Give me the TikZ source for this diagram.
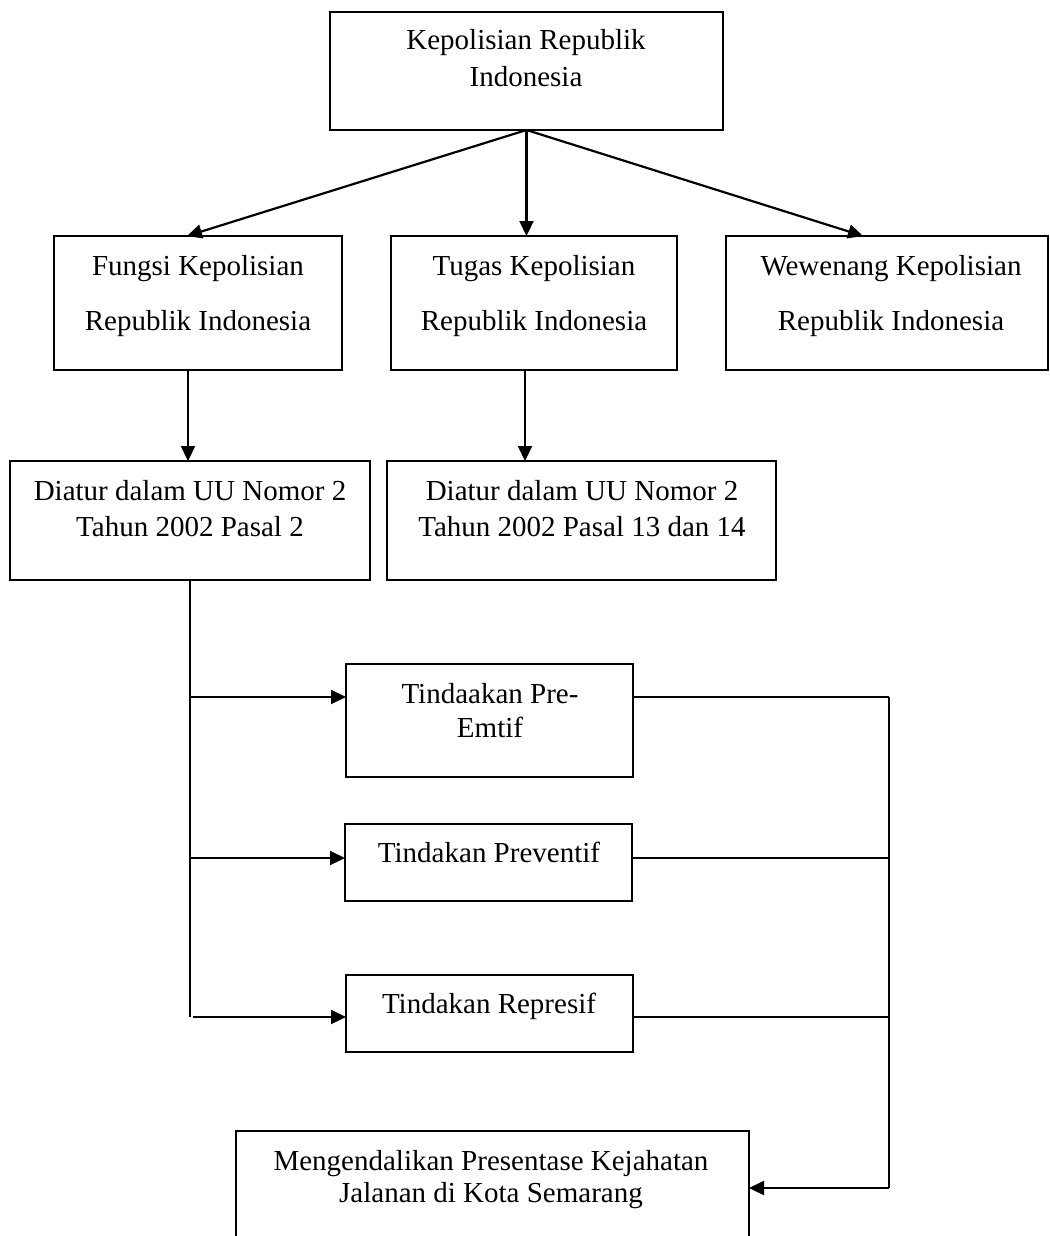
\documentclass[tikz,border=0pt]{standalone}
\usepackage{fontspec}
\setmainfont{Liberation Serif}
\usetikzlibrary{arrows.meta}
\begin{document}
\begin{tikzpicture}[x=1pt,y=-1pt,
  box/.style={draw, line width=2.2pt, inner sep=0pt, outer sep=0pt},
  txt/.style={align=center, font=\fontsize{29}{#1}\selectfont, anchor=base, inner sep=0pt},
  ln/.style={line width=2.2pt},
  arr/.style={line width=2.2pt, -{Triangle[length=15pt,width=14pt]}}]
\clip (0,0) rectangle (1049,1236);
\useasboundingbox (0,0) rectangle (1049,1236);
% boxes
\node[box, minimum width=393pt, minimum height=118pt] (top) at (526.5,71) {};
\node[box, minimum width=288pt, minimum height=134pt] (fungsi) at (198,303) {};
\node[box, minimum width=286pt, minimum height=134pt] (tugas) at (534,303) {};
\node[box, minimum width=322pt, minimum height=134pt] (wew) at (887,303) {};
\node[box, minimum width=360pt, minimum height=119pt] (d1) at (190,520.5) {};
\node[box, minimum width=389pt, minimum height=119pt] (d2) at (581.5,520.5) {};
\node[box, minimum width=287pt, minimum height=113pt] (pre) at (489.5,720.5) {};
\node[box, minimum width=287pt, minimum height=77pt] (prev) at (488.5,862.5) {};
\node[box, minimum width=287pt, minimum height=77pt] (rep) at (489.5,1013.5) {};
\node[box, minimum width=513pt, minimum height=138pt] (bot) at (492.5,1200) {};
% texts (anchor = baseline of last line)
\node[txt=37pt] (ttop) at (526,87) {Kepolisian Republik\\Indonesia};
\node[txt=55pt] (tfungsi) at (198,330) {Fungsi Kepolisian\\Republik Indonesia};
\node[txt=55pt] (ttugas) at (534,330) {Tugas Kepolisian\\Republik Indonesia};
\node[txt=55pt] (twew) at (891,330) {Wewenang Kepolisian\\Republik Indonesia};
\node[txt=36pt] (td1) at (190,536) {Diatur dalam UU Nomor 2\\Tahun 2002 Pasal 2};
\node[txt=36pt] (td2) at (582,536) {Diatur dalam UU Nomor 2\\Tahun 2002 Pasal 13 dan 14};
\node[txt=34pt] (tpre) at (490,737) {Tindaakan Pre-\\Emtif};
\node[txt=34pt] (tprev) at (489,862) {Tindakan Preventif};
\node[txt=34pt] (trep) at (489,1013) {Tindakan Represif};
\node[txt=32pt] (tbot) at (491,1202) {Mengendalikan Presentase Kejahatan\\Jalanan di Kota Semarang};
% top connectors
\draw[arr] (top.south) -- ([xshift=133pt]fungsi.north west);
\draw[arr] (top.south) -- (top.south |- tugas.north);
\draw[arr] (top.south) -- ([xshift=137pt]wew.north west);
\draw[arr] ([xshift=-10pt]fungsi.south) -- ([xshift=-10pt]fungsi.south |- d1.north);
\draw[arr] ([xshift=-9pt]tugas.south) -- ([xshift=-9pt]tugas.south |- d2.north);
% trunk and branches
\coordinate (b1) at (189,697);
\coordinate (b2) at (189,858);
\coordinate (b3) at (189,1017);
\coordinate (b3s) at (193,1017);
\coordinate (r1) at (889,697);
\coordinate (r2) at (889,858);
\coordinate (r3) at (889,1017);
\coordinate (r4) at (889,1188);
\draw[ln] (d1.south) -- (d1.south |- b3);
\draw[arr] (b1) -- (b1 -| pre.west);
\draw[arr] (b2) -- (b2 -| prev.west);
\draw[arr] (b3s) -- (b3s -| rep.west);
\draw[ln] (b1 -| pre.east) -- (r1);
\draw[ln] (b2 -| prev.east) -- (r2);
\draw[ln] (b3 -| rep.east) -- (r3);
\draw[ln] (r1) -- (r4);
\draw[arr] (r4) -- (r4 -| bot.east);
\end{tikzpicture}
\end{document}
